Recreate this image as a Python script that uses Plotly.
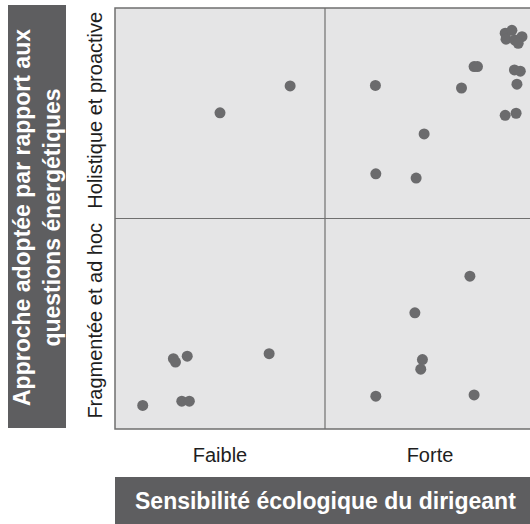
import plotly.graph_objects as go

# Data (x: sensibilité écologique, y: approche), scale 0-10, split at 5
x_vals = [2.50, 4.17,
          6.20, 6.21, 7.17, 7.36, 8.25, 8.55, 8.63, 9.29, 9.55, 9.57, 9.51, 9.65,
          9.29, 9.45, 9.31, 9.52, 9.69, 9.60,
          1.39, 1.44, 1.72, 0.66, 1.59, 1.77, 3.67,
          8.45, 7.14, 7.32, 7.28, 6.21, 8.55]
y_vals = [7.51, 8.15,
          8.16, 6.06, 5.96, 7.01, 8.10, 8.61, 8.61, 7.45, 7.50, 8.19, 8.53, 8.50,
          9.40, 9.47, 9.26, 9.24, 9.32, 9.16,
          1.67, 1.59, 1.73, 0.56, 0.66, 0.66, 1.79,
          3.63, 2.76, 1.65, 1.42, 0.78, 0.81]

x_ticks = [2.5, 7.5]
x_ticklabels = ["Faible", "Forte"]
y_ticks = [2.5, 7.5]
y_ticklabels = ["Fragmentée et ad hoc", "Holistique et proactive"]
x_title = "Sensibilité écologique du dirigeant"
y_title = "Approche adoptée par rapport aux<br>questions énergétiques"

W, H = 530, 524
ML, MR, MT, MB = 115, 0, 8, 95
plot_w = W - ML - MR
plot_h = H - MT - MB
def px_x(p):
    return (p - ML) / plot_w
def px_y(p):
    return (H - MB - p) / plot_h

BOX = "#5e5e60"
DOT = "#6b6b6d"
BG = "#e5e5e6"
LINE = "#6f6f6f"
FONT = "Liberation Sans, Arial, sans-serif"

fig = go.Figure()
fig.add_trace(go.Scatter(x=x_vals, y=y_vals, mode="markers",
                         marker=dict(size=11, color=DOT, line=dict(width=0)),
                         hoverinfo="skip", showlegend=False))

fig.update_layout(
    width=W, height=H,
    margin=dict(l=ML, r=MR, t=MT, b=MB),
    paper_bgcolor="white", plot_bgcolor=BG,
    font=dict(family=FONT, color="#222222"),
    xaxis=dict(range=[0, 10 * plot_w / 420.0], showgrid=False, zeroline=False,
               tickvals=x_ticks, ticktext=x_ticklabels, ticks="",
               tickfont=dict(size=20, color="#1e1e1e"), ticklabelstandoff=12,
               showline=False, fixedrange=True),
    yaxis=dict(range=[0, 10], showgrid=False, zeroline=False,
               tickvals=y_ticks, ticktext=y_ticklabels, ticks="",
               tickangle=-90, tickfont=dict(size=20, color="#1e1e1e"),
               ticklabelstandoff=8, showline=False, fixedrange=True),
)

shapes = [
    # plot border
    dict(type="rect", xref="paper", yref="paper", x0=0, x1=1.02, y0=0, y1=1,
         line=dict(color=LINE, width=1.5), fillcolor="rgba(0,0,0,0)", layer="above"),
    # quadrant dividers
    dict(type="line", xref="x", yref="paper", x0=5, x1=5, y0=0, y1=1,
         line=dict(color=LINE, width=1.2)),
    dict(type="line", xref="paper", yref="y", x0=0, x1=1, y0=5, y1=5,
         line=dict(color=LINE, width=1.2)),
    # title boxes
    dict(type="rect", xref="paper", yref="paper",
         x0=px_x(8), x1=px_x(66), y0=px_y(428), y1=px_y(5),
         line=dict(width=0), fillcolor=BOX, layer="below"),
    dict(type="rect", xref="paper", yref="paper",
         x0=px_x(115), x1=px_x(531), y0=px_y(524), y1=px_y(477),
         line=dict(width=0), fillcolor=BOX, layer="below"),
]
fig.update_layout(shapes=shapes)

fig.add_annotation(text=f"<b>{y_title}</b>", xref="paper", yref="paper",
                   x=px_x(37), y=px_y(218), textangle=-90, showarrow=False,
                   font=dict(size=23, color="white", family=FONT),
                   xanchor="center", yanchor="middle", align="center")
fig.add_annotation(text=f"<b>{x_title}</b>", xref="paper", yref="paper",
                   x=px_x(325), y=px_y(501), showarrow=False,
                   font=dict(size=23, color="white", family=FONT),
                   xanchor="center", yanchor="middle")

fig.write_html("out.html", config={"displayModeBar": False, "staticPlot": True},
               post_script="document.body.style.margin='0';document.body.style.overflow='hidden';")
